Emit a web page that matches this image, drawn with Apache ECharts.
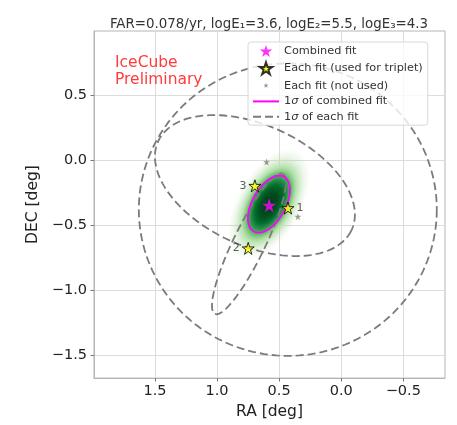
<!DOCTYPE html>
<html>
<head>
<meta charset="utf-8">
<script src="https://cdn.jsdelivr.net/npm/echarts@6/dist/echarts.min.js"></script>
<style>html,body{margin:0;padding:0;background:#fff}#c{width:457px;height:425px}</style>
</head>
<body>
<div id="c"></div>
<script>
// ---------- data ----------
const titleText = 'FAR=0.078/yr, logE\u2081=3.6, logE\u2082=5.5, logE\u2083=4.3';
const xTicks = [1.5, 1.0, 0.5, 0.0, -0.5];
const yTicks = [0.5, 0.0, -0.5, -1.0, -1.5];
const xRange = [-0.836, 1.991];
const yRange = [-1.678, 0.992];

const raCombined = [0.580];
const decCombined = [-0.349];

const eventLabels = ['1', '2', '3'];
const raEvents = [0.429, 0.749, 0.695];
const decEvents = [-0.370, -0.680, -0.199];

const raUnused = [0.601, 0.349];
const decUnused = [-0.016, -0.436];

// 1-sigma contours of each fit: centre, first and second semi-axis vectors (deg)
const eachCenters = [[0.430, -0.382], [0.743, -0.645], [0.695, -0.197]];
const eachAxisU = [[-1.200, 0.000], [-0.274, 0.540], [-0.775, -0.349]];
const eachAxisV = [[0.000, -1.125], [-0.117, -0.051], [0.219, -0.415]];

// 1-sigma contour of the combined fit
const combCenter = [0.582, -0.340];
const combAxisU = [-0.120, 0.212];
const combAxisV = [-0.119, -0.058];

// ---------- helpers ----------
const FONT = 'DejaVu Sans';
const STAR = 'path://M0,-1L0.2245,-0.309L0.951,-0.309L0.363,0.118L0.588,0.809L0,0.382L-0.588,0.809L-0.363,0.118L-0.951,-0.309L-0.2245,-0.309Z';
const SMALLSTAR = 'path://M-2.2,-2.2M2.2,2.2M0,-1L0.2245,-0.309L0.951,-0.309L0.363,0.118L0.588,0.809L0,0.382L-0.588,0.809L-0.363,0.118L-0.951,-0.309L-0.2245,-0.309Z';

function ellipsePts(c, u, v, n) {
  const pts = [];
  for (let i = 0; i <= n; i++) {
    const t = 2 * Math.PI * i / n;
    pts.push([c[0] + u[0] * Math.cos(t) + v[0] * Math.sin(t),
              c[1] + u[1] * Math.cos(t) + v[1] * Math.sin(t)]);
  }
  return pts;
}
const GREENS = [[247,252,245],[229,245,224],[199,233,192],[161,217,155],[116,196,118],[65,171,93],[35,139,69],[0,109,44],[0,68,27]];
function greens(v) {
  v = Math.max(0, Math.min(1, v));
  const p = v * 8, i = Math.min(7, Math.floor(p)), f = p - i;
  const a = GREENS[i], b = GREENS[i + 1];
  return [0, 1, 2].map(k => Math.round(a[k] + (b[k] - a[k]) * f));
}
function profile(r) { return Math.exp(-Math.pow(r / 1.25, 3.2)); }

const fmt = v => {
  const s = Math.abs(v) < 1e-9 ? '0.0' : v.toFixed(1);
  return s.replace('-', '\u2212');
};

const chart = echarts.init(document.getElementById('c'), null, {renderer: 'canvas'});

const series = [];

// green likelihood blob
series.push({
  type: 'custom',
  name: 'blob',
  z: 1,
  silent: true,
  data: [[combCenter[0], combCenter[1]]],
  encode: {x: 0, y: 1},
  renderItem: function (params, api) {
    const c = api.coord(combCenter);
    const pu = api.coord([combCenter[0] + combAxisU[0], combCenter[1] + combAxisU[1]]);
    const pv = api.coord([combCenter[0] + combAxisV[0], combCenter[1] + combAxisV[1]]);
    const U = [pu[0] - c[0], pu[1] - c[1]];
    const V = [pv[0] - c[0], pv[1] - c[1]];
    const children = [];
    const N = 50, SMAX = 1.9, VT = 0.3;
    let prevA = 0;
    for (let k = 0; k < N; k++) {
      const s = SMAX - k * (SMAX / N);
      const val = profile(s);
      let fill;
      if (val < VT) {
        const A = val / VT;
        const a = 1 - (1 - A) / (1 - prevA);
        prevA = A;
        const col = greens(VT);
        fill = 'rgba(' + col[0] + ',' + col[1] + ',' + col[2] + ',' + Math.max(0, a).toFixed(4) + ')';
      } else {
        const col = greens(val);
        fill = 'rgb(' + col[0] + ',' + col[1] + ',' + col[2] + ')';
      }
      const pts = [];
      for (let i = 0; i < 72; i++) {
        const t = 2 * Math.PI * i / 72;
        pts.push([c[0] + s * (U[0] * Math.cos(t) + V[0] * Math.sin(t)),
                  c[1] + s * (U[1] * Math.cos(t) + V[1] * Math.sin(t))]);
      }
      children.push({type: 'polygon', shape: {points: pts}, style: {fill: fill}, silent: true});
    }
    return {type: 'group', children: children};
  }
});

// dashed 1-sigma contours of each fit
for (let i = 0; i < eachCenters.length; i++) {
  series.push({
    type: 'line',
    name: '1\u03c3 of each fit',
    z: 3,
    symbol: 'none',
    smooth: false,
    silent: true,
    data: ellipsePts(eachCenters[i], eachAxisU[i], eachAxisV[i], 160),
    itemStyle: {color: '#7b7b7b'},
    lineStyle: {color: '#7b7b7b', width: 1.8, type: [8, 4]}
  });
}

// magenta combined contour
series.push({
  type: 'line',
  name: '1\u03c3 of combined fit',
  z: 4,
  symbol: 'none',
  silent: true,
  data: ellipsePts(combCenter, combAxisU, combAxisV, 120),
  itemStyle: {color: '#ff00ff'},
  lineStyle: {color: '#ff00ff', width: 1.8}
});

series.push({
  type: 'scatter',
  name: 'Each fit (not used)',
  z: 5,
  symbol: STAR,
  symbolSize: 7,
  itemStyle: {color: '#808080'},
  data: raUnused.map((r, i) => [r, decUnused[i]])
});

series.push({
  type: 'scatter',
  name: 'Each fit (used for triplet)',
  z: 6,
  symbol: STAR,
  symbolSize: 12,
  itemStyle: {color: '#ffff00', borderColor: '#000', borderWidth: 1},
  label: {show: true, fontFamily: FONT, fontSize: 11, color: '#333'},
  data: raEvents.map((r, i) => ({
    value: [r, decEvents[i]],
    label: {position: i === 0 ? 'right' : 'left', distance: 2, formatter: eventLabels[i]}
  }))
});

series.push({
  type: 'scatter',
  name: 'Combined fit',
  z: 7,
  symbol: STAR,
  symbolSize: 14,
  itemStyle: {color: '#ff00ff'},
  data: raCombined.map((r, i) => [r, decCombined[i]])
});

const option = {
  animation: false,
  backgroundColor: '#fff',
  textStyle: {fontFamily: FONT},
  title: [
    {
      text: titleText,
      left: 264, top: 13, textAlign: 'center',
      textStyle: {fontFamily: FONT, fontSize: 13.4, fontWeight: 'normal', color: '#333'}
    },
    {
      text: 'IceCube\nPreliminary',
      left: 110, top: 49,
      textStyle: {fontFamily: FONT, fontSize: 15.5, fontWeight: 'normal', color: '#ff3b3b', lineHeight: 17.5}
    }
  ],
  grid: {left: 94, right: 12, top: 31, bottom: 36, show: true, borderColor: '#b5b5b5', borderWidth: 1, backgroundColor: 'transparent'},
  legend: {
    orient: 'vertical',
    left: 248, top: 42,
    padding: [3, 5, 3, 4],
    itemWidth: 26, itemHeight: 12, itemGap: 4.3,
    backgroundColor: 'rgba(255,255,255,0.8)',
    borderColor: '#d8d8d8', borderWidth: 1, borderRadius: 3,
    textStyle: {fontFamily: FONT, fontSize: 11.3, color: '#333',
      rich: {i: {fontFamily: FONT, fontSize: 11.3, fontStyle: 'italic', color: '#333'}}},
    formatter: name => name.replace('\u03c3', '{i|\u03c3}'),
    data: [
      {name: 'Combined fit', icon: STAR},
      {name: 'Each fit (used for triplet)', icon: STAR},
      {name: 'Each fit (not used)', icon: SMALLSTAR},
      {name: '1\u03c3 of combined fit', itemStyle: {opacity: 0}},
      {name: '1\u03c3 of each fit', itemStyle: {opacity: 0}}
    ]
  },
  xAxis: {
    type: 'value', inverse: true, min: xRange[0], max: xRange[1],
    name: 'RA [deg]', nameLocation: 'middle', nameGap: 23,
    nameTextStyle: {fontFamily: FONT, fontSize: 15.5, color: '#222', verticalAlign: 'top'},
    axisLine: {show: true, onZero: false, lineStyle: {color: '#b5b5b5'}},
    axisTick: {show: true, length: 3.5, lineStyle: {color: '#777'}, customValues: xTicks},
    axisLabel: {customValues: xTicks, formatter: fmt, fontFamily: FONT, fontSize: 14.5, color: '#222', margin: 6},
    splitLine: {show: true, lineStyle: {color: '#dcdcdc', width: 1}}
  },
  yAxis: {
    type: 'value', min: yRange[0], max: yRange[1],
    name: 'DEC [deg]', nameLocation: 'middle', nameGap: 42,
    nameTextStyle: {fontFamily: FONT, fontSize: 15.5, color: '#222'},
    axisLine: {show: true, onZero: false, lineStyle: {color: '#b5b5b5'}},
    axisTick: {show: true, length: 3.5, lineStyle: {color: '#777'}, customValues: yTicks},
    axisLabel: {customValues: yTicks, formatter: fmt, fontFamily: FONT, fontSize: 14.5, color: '#222', margin: 7},
    splitLine: {show: true, lineStyle: {color: '#dcdcdc', width: 1}}
  },
  series: series
};
chart.setOption(option);
</script>
</body>
</html>
